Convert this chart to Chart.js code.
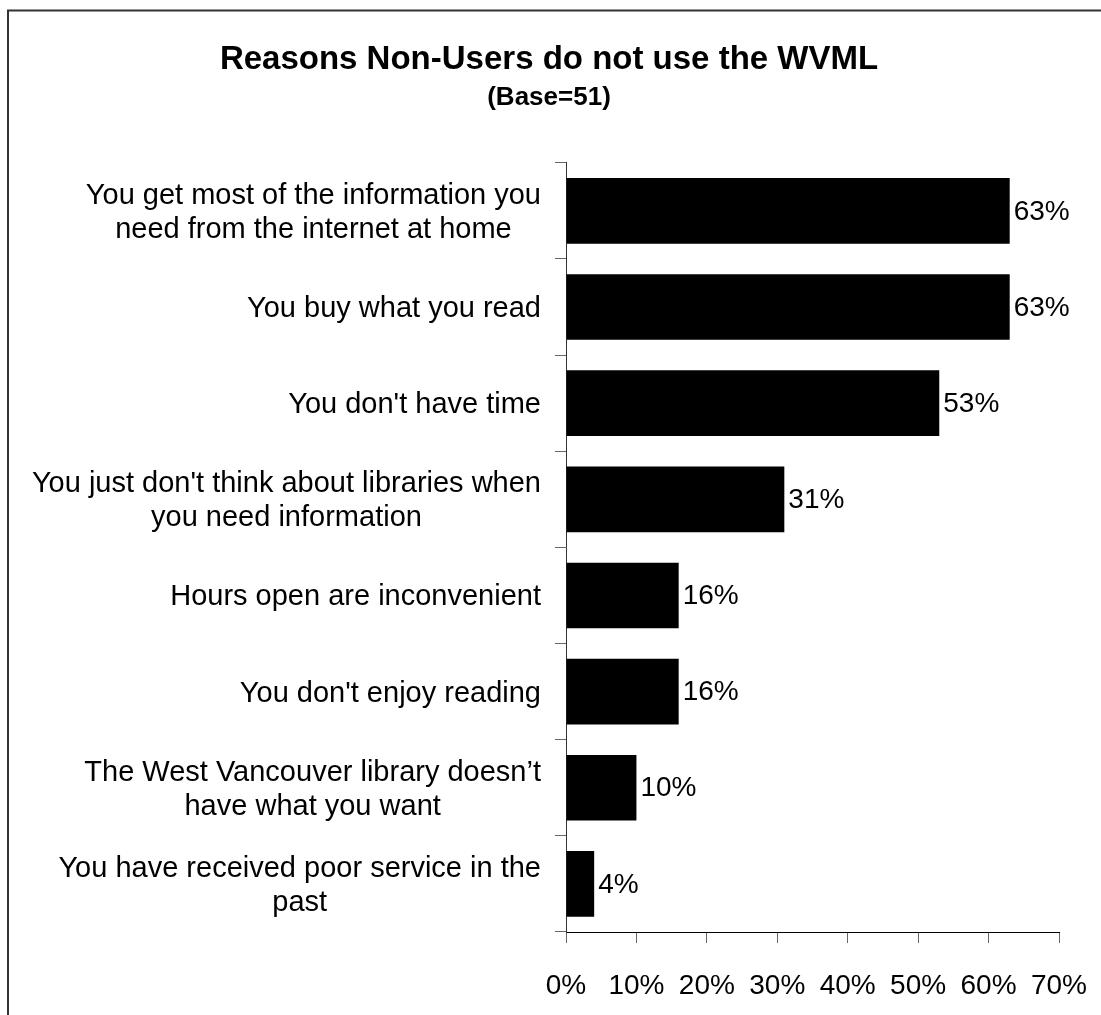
<!DOCTYPE html>
<html lang="en">
  <head>
    <meta charset="UTF-8" />
    <title>Reasons Non-Users do not use the WVML</title>
    <script src="https://cdn.jsdelivr.net/npm/chart.js"></script>
    <style>
      html, body { margin: 0; padding: 0; background: #fff; overflow: hidden; }
      canvas { display: block; }
    </style>
  </head>
  <body>
    <canvas id="reasonsChart" width="1101" height="1015"></canvas>
    <script>
      const FONT = "'Liberation Sans', Arial, sans-serif";

      const reasons = [
        ["You get most of the information you", "need from the internet at home"],
        "You buy what you read",
        "You don't have time",
        ["You just don't think about libraries when", "you need information"],
        "Hours open are inconvenient",
        "You don't enjoy reading",
        ["The West Vancouver library doesn\u2019t", "have what you want"],
        ["You have received poor service in the", "past"]
      ];
      const percents = [63, 63, 53, 31, 16, 16, 10, 4];
      const xTicks = [0, 10, 20, 30, 40, 50, 60, 70];

      // outer box around the whole chart (right/bottom sides fall off the page)
      const frame = {
        id: "frame",
        beforeDraw(chart) {
          const ctx = chart.ctx;
          ctx.save();
          ctx.strokeStyle = "#333";
          ctx.lineWidth = 2;
          ctx.strokeRect(8, 10.5, 2000, 2000);
          ctx.restore();
        }
      };

      // category labels: block right-aligned next to the axis, lines centred within it
      const categoryLabels = {
        id: "categoryLabels",
        afterDraw(chart) {
          const ctx = chart.ctx;
          const y = chart.scales.y;
          const right = chart.chartArea.left - 25;
          const lineH = 34;
          ctx.save();
          ctx.font = "29px " + FONT;
          ctx.fillStyle = "#000";
          ctx.textBaseline = "middle";
          ctx.textAlign = "center";
          chart.data.labels.forEach((lab, i) => {
            const lines = Array.isArray(lab) ? lab : [lab];
            const w = Math.max(...lines.map(l => ctx.measureText(l).width));
            const cx = right - w / 2;
            const cy = y.getPixelForValue(i) + 2;
            lines.forEach((l, j) => {
              ctx.fillText(l, cx, cy + (j - (lines.length - 1) / 2) * lineH);
            });
          });
          ctx.restore();
        }
      };

      // value labels at the end of each bar
      const valueLabels = {
        id: "valueLabels",
        afterDatasetsDraw(chart) {
          const ctx = chart.ctx;
          const meta = chart.getDatasetMeta(0);
          ctx.save();
          ctx.font = "28px " + FONT;
          ctx.fillStyle = "#000";
          ctx.textAlign = "left";
          ctx.textBaseline = "middle";
          meta.data.forEach((bar, i) => {
            ctx.fillText(percents[i] + "%", bar.x + 4, bar.y + 1);
          });
          ctx.restore();
        }
      };

      new Chart(document.getElementById("reasonsChart"), {
        type: "bar",
        data: {
          labels: reasons,
          datasets: [{
            data: percents,
            backgroundColor: "#000",
            borderWidth: 0,
            barPercentage: 0.683,
            categoryPercentage: 1
          }]
        },
        options: {
          indexAxis: "y",
          responsive: false,
          animation: false,
          layout: { padding: { top: 0, left: 39, right: 42, bottom: 0 } },
          plugins: {
            legend: { display: false },
            tooltip: { enabled: false },
            title: {
              display: true,
              text: "Reasons Non-Users do not use the WVML",
              color: "#000",
              font: { family: FONT, size: 33, weight: "bold" },
              padding: { top: 40, bottom: 0 }
            },
            subtitle: {
              display: true,
              text: "(Base=51)",
              color: "#000",
              font: { family: FONT, size: 26, weight: "bold" },
              padding: { top: 3, bottom: 49 }
            }
          },
          scales: {
            x: {
              min: xTicks[0],
              max: xTicks[xTicks.length - 1],
              afterBuildTicks(s) { s.ticks = xTicks.map(v => ({ value: v })); },
              afterFit(s) {
                s.height = 83;
                s.paddingLeft = 0;
                s.paddingRight = 0;
              },
              grid: { drawOnChartArea: false, drawTicks: true, tickLength: 11, color: "#666" },
              border: { color: "#000", width: 1 },
              ticks: {
                padding: 26,
                color: "#000",
                font: { family: FONT, size: 28 },
                callback: v => v + "%"
              }
            },
            y: {
              afterFit(s) {
                s.width = 527;
                s.paddingTop = 0;
                s.paddingBottom = 0;
              },
              grid: { drawOnChartArea: false, drawTicks: true, tickLength: 11, color: "#666", offset: true },
              border: { color: "#333", width: 1 },
              ticks: { display: false }
            }
          }
        },
        plugins: [frame, categoryLabels, valueLabels]
      });
    </script>
  </body>
</html>
